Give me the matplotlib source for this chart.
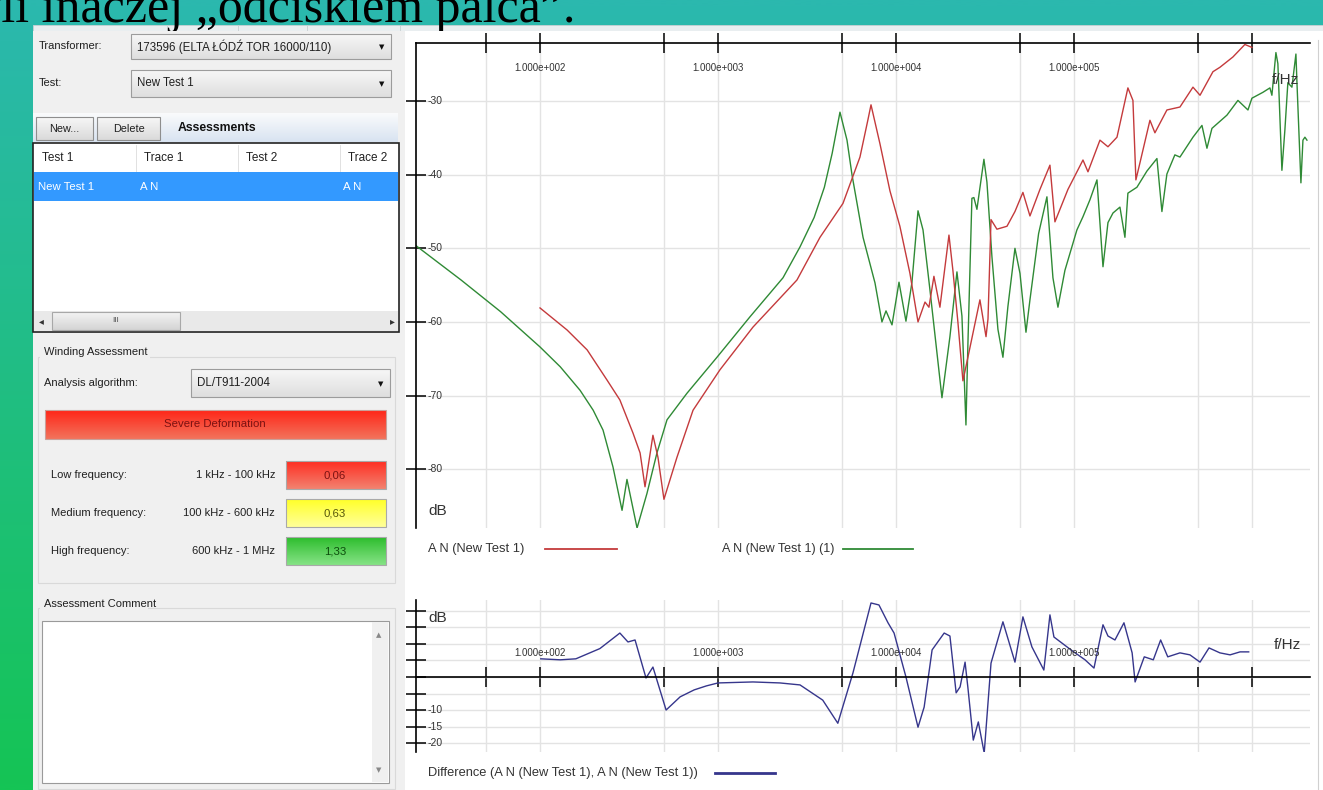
import numpy as np
import matplotlib
matplotlib.use("Agg")
import matplotlib.pyplot as plt
from matplotlib.patches import Rectangle
from matplotlib.colors import to_rgb

W, H = 1323, 790

# ---- traces (Hz, dB) ----
red_freq = [100, 142, 184, 238, 281, 333, 365, 389, 431, 460,
            497, 588, 724, 1026, 1573, 2778, 3743, 5036, 6276, 6962,
            7240, 8130, 9252, 10520, 11980, 13300, 14560, 15320, 16340, 17660,
            19850, 20890, 22280, 23780, 25370, 29630, 32060, 32890, 34200, 36920,
            42050, 46620, 51680, 56600, 64400, 73300, 78200, 92500, 112400, 119900,
            140000, 155300, 174500, 201000, 214500, 222900, 234800, 267300, 285100, 332900,
            394100, 466400, 511000, 604000, 661000, 782000, 913000, 1000000]
red_db = [-58.1, -61.1, -63.8, -67.9, -70.6, -75.1, -77.8, -82.4, -75.4, -78.4,
          -84.1, -78.4, -72.0, -66.5, -60.7, -54.3, -48.5, -43.9, -37.6, -32.5,
          -30.5, -35.8, -42.2, -47.0, -53.4, -60.0, -57.3, -58.0, -53.8, -58.0,
          -48.2, -53.0, -60.0, -68.0, -64.8, -57.0, -62.0, -59.6, -46.1, -47.4,
          -47.0, -45.0, -42.4, -45.6, -42.0, -38.7, -46.4, -42.0, -38.0, -39.6,
          -35.3, -36.2, -34.9, -28.2, -29.9, -40.7, -38.4, -32.6, -34.3, -31.2,
          -30.8, -28.1, -29.2, -26.0, -25.4, -24.0, -22.3, -22.7]

green_freq = [20, 36, 60, 100, 130, 168, 199, 226, 257, 289,
              308, 351, 399, 454, 517, 669, 987, 1513, 2319, 2890,
              3470, 3960, 4380, 4846, 5307, 5661, 6530, 7623, 8340, 8790,
              9500, 10400, 11380, 12300, 13300, 14190, 15530, 18130, 20100, 22010,
              23480, 24730, 25370, 26710, 27400, 28500, 31200, 32440, 34600, 37400,
              39900, 42560, 46620, 49750, 53760, 56600, 63300, 70500, 76200, 81300,
              88970, 103900, 112400, 123000, 134700, 145600, 155300, 165700, 181300, 193400,
              201000, 225900, 257100, 292600, 312100, 332900, 369000, 394100, 466400, 523900,
              558900, 596200, 724000, 834500, 950000, 1000000, 1153000, 1262000, 1295000, 1364000,
              1399000, 1474000, 1532000, 1592000, 1678000, 1767000, 1791000, 1885000, 1935000, 1985000,
              2038000]
green_db = [-49.6, -54.3, -58.6, -63.4, -66.1, -69.3, -72.0, -74.7, -79.7, -85.6,
            -81.4, -88.0, -83.3, -77.8, -73.3, -69.7, -64.8, -59.3, -54.0, -49.8,
            -45.8, -41.7, -37.1, -31.5, -35.3, -40.0, -48.5, -54.7, -60.0, -58.5,
            -60.4, -54.6, -59.9, -54.6, -44.9, -47.5, -55.7, -70.3, -62.0, -53.2,
            -59.2, -74.0, -62.9, -43.2, -43.1, -44.7, -37.9, -41.0, -51.1, -61.0,
            -64.8, -57.9, -50.0, -53.4, -61.4, -57.0, -48.0, -43.0, -54.0, -58.0,
            -53.0, -47.5, -45.7, -43.4, -40.7, -52.5, -46.5, -45.2, -44.4, -48.5,
            -42.5, -41.7, -39.5, -37.8, -45.0, -39.9, -37.3, -37.6, -34.9, -33.3,
            -36.4, -33.7, -31.9, -29.9, -31.2, -29.6, -28.8, -28.2, -29.2, -23.4,
            -24.9, -39.4, -33.9, -27.5, -28.1, -23.6, -27.5, -41.1, -35.3, -34.9,
            -35.3]

diff_freq = [101, 130, 159, 217, 281, 312, 342, 394, 431, 511,
             613, 735, 860, 1000, 1571, 2229, 2890, 3877, 4713, 5730,
             7240, 8024, 9022, 9757, 11380, 13300, 14400, 15960, 18660, 20100,
             21780, 22920, 24450, 25370, 27190, 29020, 31320, 34200, 39900, 46620,
             51680, 58060, 67750, 73300, 77190, 96210, 115400, 129600, 145600, 155300,
             170000, 191000, 212300, 220600, 248400, 279200, 307000, 336600, 394100, 448400,
             511000, 574000, 661000, 754000, 858000, 959000]
diff_db = [5.5, 5.2, 5.5, 8.6, 13.3, 10.6, 11.2, -0.3, 3.0, -10.0,
           -6.0, -3.9, -2.7, -1.8, -1.5, -1.8, -2.4, -7.0, -14.0, 1.2,
           22.4, 21.8, 16.4, 13.3, 0.0, -15.2, -9.1, 8.2, 13.3, 12.4,
           -4.8, -3.0, 4.5, -3.3, -19.1, -13.6, -23.0, 4.2, 16.7, 4.5,
           18.2, 9.1, 2.1, 18.8, 12.1, 8.2, 5.2, 2.7, 15.8, 12.4,
           11.2, 16.4, 7.3, -1.5, 6.1, 5.2, 11.2, 6.1, 7.3, 6.7,
           4.5, 8.8, 7.3, 6.7, 7.6, 7.6]

x_ticks = [50, 100, 500, 1e3, 5e3, 1e4, 5e4, 1e5, 5e5, 1e6]
x_label_ticks = [1e2, 1e3, 1e4, 1e5]
x_tick_labels = ["1.000e+002", "1.000e+003", "1.000e+004", "1.000e+005"]
top_y_ticks = [-30, -40, -50, -60, -70, -80]
low_y_ticks = [-20, -15, -10, -5, 0, 5, 10, 15, 20]
low_y_labels = [-10, -15, -20]

# ---- assessment panel values ----
band_names = ["Low frequency:", "Medium frequency:", "High frequency:"]
band_ranges = ["1 kHz - 100 kHz", "100 kHz - 600 kHz", "600 kHz - 1 MHz"]
band_scores = ["0,06", "0,63", "1,33"]

RED = "#c43a3c"
GREEN = "#2f8a35"
NAVY = "#36368c"
GRID = "#e3e3e3"

plt.rcParams['font.family'] = ['Liberation Sans', 'DejaVu Sans']

fig = plt.figure(figsize=(W / 100, H / 100), dpi=100)
bg = fig.add_axes([0, 0, 1, 1])
bg.axis("off")


def px_rect(x0, y0, x1, y1):
    return [x0 / W, 1 - y1 / H, (x1 - x0) / W, (y1 - y0) / H]


def grad(x0, y0, x1, y1, c_top, c_bot, z=2):
    c0 = np.array(to_rgb(c_top))
    c1 = np.array(to_rgb(c_bot))
    t = np.linspace(0, 1, 64)[:, None, None]
    img = c0 + (c1 - c0) * t
    bg.imshow(img, extent=(x0, x1, y1, y0), aspect='auto', zorder=z,
              interpolation='bilinear')


def box(x0, y0, x1, y1, fc='none', ec='none', lw=0.8, z=3):
    bg.add_patch(Rectangle((x0, y0), x1 - x0, y1 - y0, facecolor=fc,
                           edgecolor=ec, linewidth=lw, zorder=z))


def txt(x, y, s, size=8, ha='left', color='#202020', z=5, **kw):
    bg.text(x, y, s, fontsize=size, ha=ha, va='center', color=color, zorder=z, **kw)


def combo(x0, y0, x1, y1, label):
    grad(x0, y0, x1, y1, '#f7f7f7', '#dedede', z=3)
    box(x0, y0, x1, y1, ec='#9c9c9c', z=4)
    txt(x0 + 6, (y0 + y1) / 2, label, 8.3)
    txt(x1 - 9, (y0 + y1) / 2 + 1, '▼', 5, ha='center', color='#111111',
        family=['DejaVu Sans'])


# slide background + heading (cut off at the top, as on the slide)
grad(0, 0, W, H, '#2bb8ae', '#15c455', z=0)
bg.text(-68, 22, "czyli inaczej „odciskiem palca”.", fontsize=36,
        family=['Liberation Serif', 'DejaVu Serif'], color='black',
        ha='left', va='baseline', zorder=1.5)

# window frame
box(33, 25, W, 31, fc='#e9eef0', ec='#c9d0d3', lw=0.6, z=1)
for xv in [167, 238, 307, 400]:
    bg.plot([xv, xv], [25, 31], color='#c8cfd2', lw=0.6, zorder=1.1)
box(33, 31, 405, H, fc='#f0f0f0', z=2)
box(405, 31, W, H, fc='white', z=2)
bg.plot([1318, 1318], [40, H], color='#d0d0d0', lw=0.8, zorder=3)

# selection controls
txt(39, 46, "Transformer:")
combo(131, 34, 391, 59, "173596 (ELTA ŁÓDŹ TOR 16000/110)")
txt(39, 83, "Test:")
combo(131, 70, 391, 97, "New Test 1")

grad(33, 113, 398, 142, '#fafbfc', '#d8e3f1', z=3)
for (bx0, bx1, lab) in [(36, 93, "New..."), (97, 160, "Delete")]:
    grad(bx0, 117, bx1, 140, '#f7f7f7', '#dadada', z=4)
    box(bx0, 117, bx1, 140, ec='#8e8e8e', z=4.5)
    txt((bx0 + bx1) / 2, 129, lab, 7.8, ha='center')
txt(178, 128, "Assessments", 8.8, weight='bold', color='#111111')

# assessments table
box(33, 143, 399, 332, fc='white', ec='#222222', lw=1.2, z=3)
for xv in [136, 238, 340]:
    bg.plot([xv, xv], [145, 200], color='#dcdcdc', lw=0.6, zorder=4)
for (xt, lab) in [(42, "Test 1"), (144, "Trace 1"), (246, "Test 2"), (348, "Trace 2")]:
    txt(xt, 158, lab, 8.5)
box(34, 172, 398, 201, fc='#3399ff', z=4)
for (xt, lab) in [(38, "New Test 1"), (140, "A N"), (343, "A N")]:
    txt(xt, 187, lab, 8.2, color='white')
box(34, 311, 398, 331, fc='#e9e9e9', z=4)
grad(52, 312, 180, 330, '#f4f4f4', '#d4d4d4', z=5)
box(52, 312, 180, 330, ec='#a8a8a8', z=5.5)
txt(116, 321, "III", 6, ha='center', color='#555555', z=6)
txt(41, 321, "◂", 7, ha='center', color='#333333', family=['DejaVu Sans'])
txt(392, 321, "▸", 7, ha='center', color='#333333', family=['DejaVu Sans'])

# winding assessment group
box(38, 357, 395, 583, ec='#d9d9d9', z=3)
box(40, 346, 150, 360, fc='#f0f0f0', z=3.5)
txt(44, 352, "Winding Assessment")
txt(44, 383, "Analysis algorithm:")
combo(191, 369, 390, 397, "DL/T911-2004")
grad(45, 410, 386, 439, '#ff2618', '#f2735c', z=3)
box(45, 410, 386, 439, ec='#c9a09a', z=4)
txt(215, 424, "Severe Deformation", 8.2, ha='center', color='#7a1212')

band_fill = [('#ff2e22', '#f28270', '#7a1212'),
             ('#ffff28', '#ffff9a', '#55550a'),
             ('#2dbd2d', '#86e386', '#0c4d0c')]
for i, (nm, rg, sc) in enumerate(zip(band_names, band_ranges, band_scores)):
    yc = 475 + 38 * i
    txt(51, yc, nm)
    txt(275, yc, rg, ha='right')
    ct, cb, tc = band_fill[i]
    grad(286, yc - 14, 386, yc + 14, ct, cb, z=3)
    box(286, yc - 14, 386, yc + 14, ec='#a9a9a9', z=4)
    txt(335, yc, sc, 8.2, ha='center', color=tc)

# comment group
box(38, 608, 395, 789, ec='#d9d9d9', z=3)
box(40, 597, 148, 611, fc='#f0f0f0', z=3.5)
txt(44, 604, "Assessment Comment")
box(42, 621, 389, 783, fc='white', ec='#9a9a9a', z=4)
box(372, 622, 388, 782, fc='#f0f0f0', z=4.5)
txt(379, 635, "▲", 5, ha='center', color='#888888', family=['DejaVu Sans'])
txt(379, 770, "▼", 5, ha='center', color='#888888', family=['DejaVu Sans'])

# legends of the charts
txt(428, 549, "A N (New Test 1)", 9.3, color='#333333')
bg.plot([545, 617], [549, 549], color=RED, lw=1.3, zorder=5)
txt(722, 549, "A N (New Test 1) (1)", 9.0, color='#333333')
bg.plot([843, 913], [549, 549], color=GREEN, lw=1.3, zorder=5)
txt(428, 773, "Difference (A N (New Test 1), A N (New Test 1))", 9.3, color='#333333')
bg.plot([715, 775], [773, 773], color=NAVY, lw=2, zorder=5)

bg.set_xlim(0, W)
bg.set_ylim(H, 0)

# ---- upper chart: two traces ----
ax1 = fig.add_axes(px_rect(416, 43, 1310, 528))
ax1.set_xscale('log')
ax1.patch.set_alpha(0)
ax1.set_axisbelow(True)
ax1.plot(green_freq, green_db, color=GREEN, lw=1.0)
ax1.plot(red_freq, red_db, color=RED, lw=1.0)
ax1.set_xlim(20.1, 2.12e6)
ax1.set_ylim(-88.0, -22.1)
for s in ['bottom', 'right']:
    ax1.spines[s].set_visible(False)
for s in ['top', 'left']:
    ax1.spines[s].set_linewidth(1.2)
ax1.xaxis.set_ticks_position('top')
ax1.set_xticks(x_ticks)
ax1.set_xticks([], minor=True)
ax1.set_yticks(top_y_ticks)
ax1.tick_params(axis='both', direction='inout', length=14, width=1.1,
                labeltop=False, labelleft=False, labelbottom=False)
ax1.grid(True, color=GRID, lw=1)
for f, lab in zip(x_label_ticks, x_tick_labels):
    ax1.text(f, 0.948, lab, transform=ax1.get_xaxis_transform(), fontsize=7,
             ha='center', va='center', color='#333333')
for v in top_y_ticks:
    ax1.text(0.0134, v, str(v), transform=ax1.get_yaxis_transform(), fontsize=7.5,
             ha='left', va='center', color='#333333')
ax1.text(0.0134, 0.035, "dB", transform=ax1.transAxes, fontsize=11,
         ha='left', va='center', color='#333333')
ax1.text(0.972, 0.924, "f/Hz", transform=ax1.transAxes, fontsize=11,
         ha='center', va='center', color='#333333')

# ---- lower chart: difference ----
ax2 = fig.add_axes(px_rect(416, 600, 1310, 752))
ax2.set_xscale('log')
ax2.patch.set_alpha(0)
ax2.set_axisbelow(True)
ax2.plot(diff_freq, diff_db, color=NAVY, lw=1.0)
ax2.set_xlim(20.1, 2.12e6)
ax2.set_ylim(-22.7, 23.3)
for s in ['top', 'right']:
    ax2.spines[s].set_visible(False)
ax2.spines['bottom'].set_position(('data', 0))
ax2.spines['bottom'].set_linewidth(1.2)
ax2.spines['left'].set_linewidth(1.2)
ax2.set_xticks(x_ticks)
ax2.set_xticks([], minor=True)
ax2.set_yticks(low_y_ticks)
ax2.tick_params(axis='both', direction='inout', length=14, width=1.1,
                labelleft=False, labelbottom=False)
ax2.grid(True, color=GRID, lw=1)
for f, lab in zip(x_label_ticks, x_tick_labels):
    ax2.text(f, 0.651, lab, transform=ax2.get_xaxis_transform(), fontsize=7,
             ha='center', va='center', color='#333333')
for v in low_y_labels:
    ax2.text(0.0134, v, str(v), transform=ax2.get_yaxis_transform(), fontsize=7.5,
             ha='left', va='center', color='#333333')
ax2.text(0.0134, 0.88, "dB", transform=ax2.transAxes, fontsize=11,
         ha='left', va='center', color='#333333')
ax2.text(0.975, 0.704, "f/Hz", transform=ax2.transAxes, fontsize=11,
         ha='center', va='center', color='#333333')

fig.savefig("out.png", dpi=100)
